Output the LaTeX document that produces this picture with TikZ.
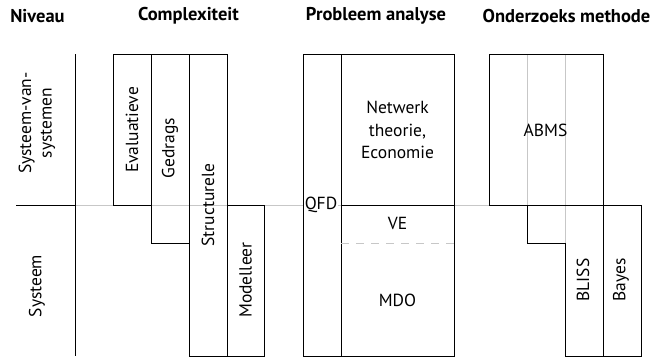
\documentclass[tikz,border=0pt]{standalone}
\usepackage{fontspec}
\setmainfont{PT Sans}
\begin{document}
\begin{tikzpicture}[x=1pt,y=-1pt,
  frame/.style={draw=black,line width=0.9pt},
  guide/.style={draw=black!22,line width=0.9pt},
  title/.style={font=\bfseries\fontsize{18.5}{22}\selectfont,inner sep=0pt},
  lbl/.style={font=\fontsize{17.5}{22.5}\selectfont,inner sep=0pt,align=center},
  vlbl/.style={lbl,rotate=90}]
\useasboundingbox (0,0) rectangle (656,357);

% key levels
\def\yT{54}\def\yM{205}\def\yG{243}\def\yB{356}

% light level line across the columns
\draw[guide] (75,\yM) -- (641,\yM);

% column headings
\node[title] (hNiv) at (37.5,16) {Niveau};
\node[title] (hCom) at (188.5,16) {Complexiteit};
\node[title] (hPro) at (376,16) {Probleem analyse};
\node[title] (hOnd) at (566.5,16) {Onderzoeks methode};

% level column
\draw[frame] (16,\yM) -- (75,\yM);
\draw[frame] (75,\yT) -- (75,\yB);
\node[vlbl,font=\fontsize{17.5}{20.5}\selectfont] (sos) at (37,123) {Systeem-van-\\systemen};
\node[vlbl] (sys) at (37,286) {Systeem};

% complexity column
\draw[frame] (113,\yT) rectangle (151,\yM);
\draw[frame] (151,\yT) rectangle (189,\yG);
\draw[frame] (189,\yT) rectangle (227,\yB);
\draw[frame] (227,\yM) rectangle (264,\yB);
\node[vlbl] (eval) at (132,130) {Evaluatieve};
\node[vlbl] (gedr) at (170,148) {Gedrags};
\node[vlbl] (stru) at (208,205) {Structurele};
\node[vlbl] (mode) at (245.5,280) {Modelleer};

% problem analysis column
\node[lbl,fill=white,inner sep=1pt] (qfd) at (321,\yM) {QFD};
\draw[frame] (303,\yT) rectangle (454,\yB);
\draw[frame] (341,\yT) -- (341,\yB);
\draw[frame] (341,\yM) -- (454,\yM);
\draw[guide,dashed,dash pattern=on 8pt off 7pt] (341,\yG) -- (454,\yG);
\node[lbl] (netw) at (397.5,130) {Netwerk\\theorie,\\Economie};
\node[lbl] (ve) at (397.5,223) {VE};
\node[lbl] (mdo) at (397.5,300) {MDO};

% research method column
\draw[guide] (527,\yT) -- (527,\yM);
\draw[guide] (565,\yT) -- (565,\yG);
\draw[frame] (489,\yM) -- (489,\yT) -- (603,\yT) -- (603,\yB);
\draw[frame] (489,\yM) -- (641,\yM) -- (641,\yB) -- (565,\yB)
  -- (565,\yG) -- (527,\yG) -- (527,\yM);
\node[lbl] (abms) at (545.5,130) {ABMS};
\node[vlbl] (blis) at (583,280) {BLISS};
\node[vlbl] (baye) at (621,280) {Bayes};
\end{tikzpicture}
\end{document}
